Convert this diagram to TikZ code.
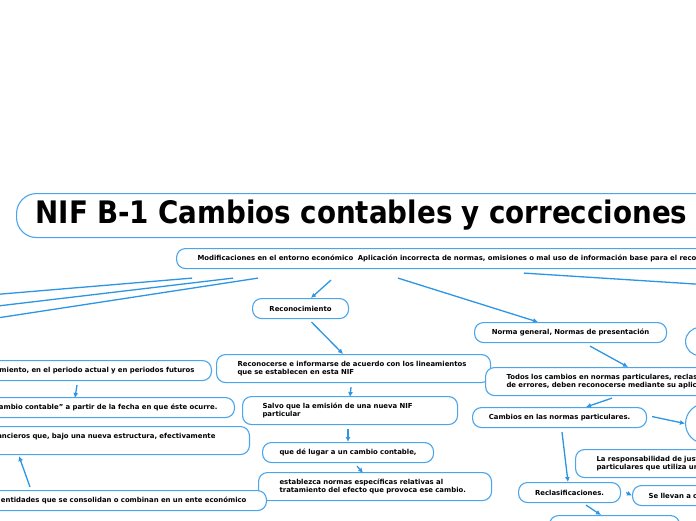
\documentclass[tikz,border=0pt]{standalone}
\usepackage{fontspec}
\setmainfont{DejaVu Sans}
\usetikzlibrary{arrows.meta,calc}
\definecolor{bl}{RGB}{45,150,228}
\definecolor{bd}{RGB}{75,165,235}
\begin{document}
\begin{tikzpicture}[x=1pt,y=-1pt,
  box/.style={draw=bd, line width=1.1pt, rounded corners=9pt, fill=white,
    font=\bfseries\fontsize{6.9}{8.5}\selectfont, inner ysep=0pt,
    minimum height=20pt, anchor=north west, align=left},
  lbox/.style={box, anchor=north east, align=right, text width=300pt},
  con/.style={draw=bl, line width=1.3pt},
  arr/.style={con, -{Latex[length=5pt,width=5pt]}}]
\useasboundingbox (0,0) rectangle (696,520);
\fill[white] (0,0) rectangle (696,520);
\clip (0,0) rectangle (696,520);

% title and top node
\node[box, rounded corners=20pt, minimum height=44pt, inner xsep=19pt, text width=1100pt,
  font=\bfseries\fontsize{31}{36}\selectfont] (title) at (16,193)
  {\scalebox{0.895}[1]{NIF B-1 Cambios contables y correcciones de errores}};
\node[box, inner xsep=21pt, text width=700pt] (top) at (176,248)
  {\mbox{Modificaciones en el entorno económico\ \ Aplicación incorrecta de normas, omisiones o mal uso de información base para el reconocimiento}};

% centre column
\node[box, align=center, inner xsep=0pt, text width=96pt] (rec) at (252,298) {Reconocimiento};
\node[box, minimum height=28pt, inner xsep=21pt, text width=232pt] (recon) at (216,354)
  {\mbox{Reconocerse e informarse de acuerdo con los lineamientos}\\\mbox{que se establecen en esta NIF}};
\node[box, minimum height=28pt, inner xsep=20pt, text width=175pt] (salvo) at (242,396)
  {\mbox{Salvo que la emisión de una nueva NIF}\\particular};
\node[box, inner xsep=17pt, text width=137pt] (lugar) at (262,442)
  {\mbox{que dé lugar a un cambio contable,}};
\node[box, minimum height=28pt, inner xsep=21pt, text width=191pt] (estab) at (258,472)
  {\mbox{establezca normas específicas relativas al}\\\mbox{tratamiento del efecto que provoca ese cambio.}};

% right column
\node[box, align=center, inner xsep=0pt, text width=192pt] (norma) at (474,322)
  {Norma general, Normas de presentación};
\node[box, minimum height=28pt, rounded corners=14pt, inner xsep=0pt, text width=100pt] (ra) at (685,327) {};
\node[box, minimum height=28pt, inner xsep=21pt, text width=400pt] (todos) at (485,367)
  {\mbox{Todos los cambios en normas particulares, reclasificaciones y correcciones}\\\mbox{de errores, deben reconocerse mediante su aplicación retrospectiva}};
\node[box, align=center, inner xsep=0pt, text width=174pt] (camb) at (472,407)
  {Cambios en las normas particulares.};
\node[box, minimum height=40pt, rounded corners=20pt, inner xsep=0pt, text width=100pt] (rb) at (685,403) {};
\node[box, minimum height=28pt, inner xsep=21pt, text width=250pt] (resp) at (575,449)
  {\mbox{La responsabilidad de justificar}\\\mbox{particulares que utiliza una}};
\node[box, align=center, inner xsep=0pt, text width=102pt] (reclas) at (518,482)
  {Reclasificaciones.};
\node[box, inner xsep=16pt, text width=150pt] (llevan) at (632,485) {Se llevan a cabo};
\node[box, minimum height=28pt, inner xsep=0pt, text width=130pt] (bot) at (549,515) {};

% left column
\node[lbox, inner xsep=17pt] (l1) at (212,360)
  {imiento, en el periodo actual y en periodos futuros};
\node[lbox, inner xsep=17pt] (l2) at (235,397)
  {“cambio contable” a partir de la fecha en que éste ocurre.};
\node[lbox, minimum height=28pt, inner xsep=34pt] (l3) at (250,426)
  {financieros que, bajo una nueva estructura, efectivamente\\\mbox{}};
\node[lbox, inner xsep=20pt] (l4) at (267,490)
  {las entidades que se consolidan o combinan en un ente económico};

% free ends of connectors
\coordinate (o1) at (-20,295.8);
\coordinate (o2) at (-20,308.1);
\coordinate (o3) at (-20,320.6);
\coordinate (o4) at (720,285.6);

% connectors
\draw[con] ($(top.south west)+(16,9)$) -- (o1);
\draw[con] ($(top.south west)+(57,9)$) -- (o2);
\draw[con] ($(top.south west)+(82,9)$) -- (o3);
\draw[con] ($(top.south west)+(348,4)$) -- (o4);
\draw[arr] ($(top.south west)+(155,11)$) -- (rec.north -| 311,0);
\draw[arr] ($(top.south west)+(222,9)$) -- ($(norma.north west)+(64,0)$);
\draw[arr] ($(rec.south)+(11,3)$) -- ($(recon.north west)+(127,0)$);
\draw[arr] ($(recon.south west)+(135,4)$) -- ($(salvo.north west)+(108,1)$);
\draw[arr] ($(salvo.south west)+(106,4)$) -- ($(lugar.north west)+(86,0)$);
\draw[arr] ($(lugar.south west)+(95,3)$) -- ($(estab.north west)+(105,1)$);
\draw[arr] ($(norma.south west)+(116,3)$) -- ($(todos.north west)+(143,0)$);
\draw[arr] ($(todos.south west)+(127,2)$) -- ($(camb.north west)+(114,0)$);
\draw[arr] ($(camb.east)+(5,-1)$) -- (rb.west);
\draw[arr] ($(camb.south west)+(90,4)$) -- ($(reclas.north west)+(50,0)$);
\draw[arr] ($(reclas.east)+(5,0)$) -- (llevan.west);
\draw[arr] ($(reclas.south west)+(68,2)$) -- ($(bot.north west)+(52,0)$);
\draw[arr] ($(l1.south east)+(-135,4)$) -- ($(l2.north east)+(-160,1)$);
\draw[arr] ($(l4.north east)+(-237,-3)$) -- ($(l3.south east)+(-231,1)$);
\end{tikzpicture}
\end{document}
